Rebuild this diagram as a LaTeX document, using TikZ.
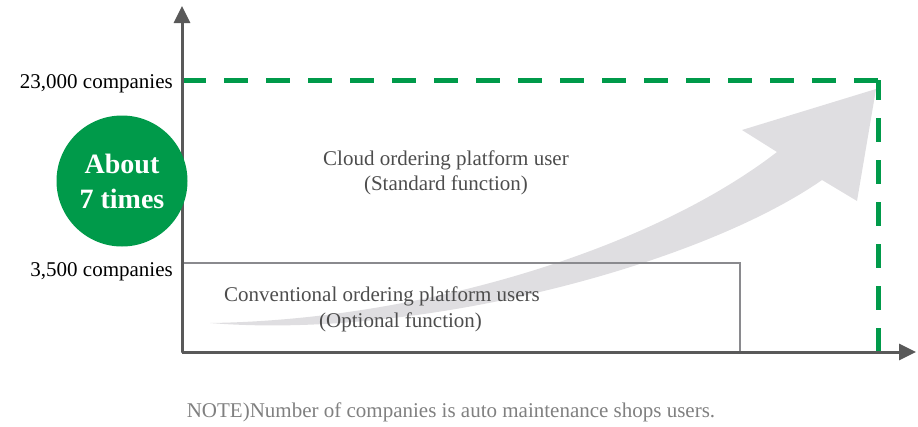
\documentclass[tikz,border=0pt]{standalone}
\usepackage{fontspec}
\setmainfont{Liberation Serif}
\usetikzlibrary{arrows.meta,positioning}
\definecolor{chartgreen}{RGB}{0,154,74}
\definecolor{axisgray}{RGB}{89,89,89}
\definecolor{boxgray}{RGB}{138,138,142}
\definecolor{arrowgray}{RGB}{223,222,225}
\definecolor{textgray}{RGB}{77,77,77}
\definecolor{notegray}{RGB}{128,128,128}

\begin{document}
\begin{tikzpicture}[
    x=1pt, y=-1pt,
    axis/.style={axisgray, line width=3pt, -{Triangle[length=17pt,width=16pt]}},
    level/.style={chartgreen, line width=5pt, dash pattern=on 24pt off 18pt},
    valuelabel/.style={anchor=east, inner sep=0pt, font=\fontsize{21}{25}\selectfont},
    areatext/.style={textgray, inner sep=0pt, font=\fontsize{21}{25.5}\selectfont},
    badge/.style={circle, fill=chartgreen, minimum size=131pt, inner sep=0pt,
        text=white, align=center, font=\fontsize{28}{35}\selectfont\bfseries}
]
    \useasboundingbox (0,0) rectangle (918,426);

    % Growth arrow
    \fill[arrowgray] (210,323) .. controls (420,320) and (650,250) .. (777,152)
        -- (742,130) -- (876,89) -- (857,201) -- (822,180)
        .. controls (700,265) and (420,340) .. (210,323) -- cycle;

    % Conventional users
    \coordinate (box sw) at (182,352);
    \coordinate (box ne) at (740,263);
    \draw[boxgray, line width=2pt] (box sw) rectangle (box ne);

    % Cloud users
    \coordinate (level w) at (182,80);
    \coordinate (level c) at (878,80);
    \coordinate (level s) at (878,352);
    \draw[level] (level w) -- (level c);
    \draw[level, dash phase=4pt] (level c) -- (level s);

    % Axes
    \coordinate (origin) at (182,352);
    \coordinate (ytop) at (182,6);
    \coordinate (xend) at (916,352);
    \draw[axis] (origin) -- (ytop);
    \draw[axis] (origin) -- (xend);

    % Labels
    \node[valuelabel] (high) at (173,84) {23,000 companies};
    \node[valuelabel] (low) at (173,272) {3,500 companies};
    \node[badge] (ratio) at (122,181) {About\\7 times};
    \node[areatext, align=center] (cloud) at (446,173)
        {Cloud ordering platform user\\(Standard function)};
    \node[areatext, align=left, anchor=west] (conv) at (224,309.5)
        {Conventional ordering platform users\\\hspace*{95pt}(Optional function)};
    \node[notegray, font=\fontsize{21}{25}\selectfont] (note) at (451,412)
        {NOTE)Number of companies is auto maintenance shops users.};
\end{tikzpicture}
\end{document}
